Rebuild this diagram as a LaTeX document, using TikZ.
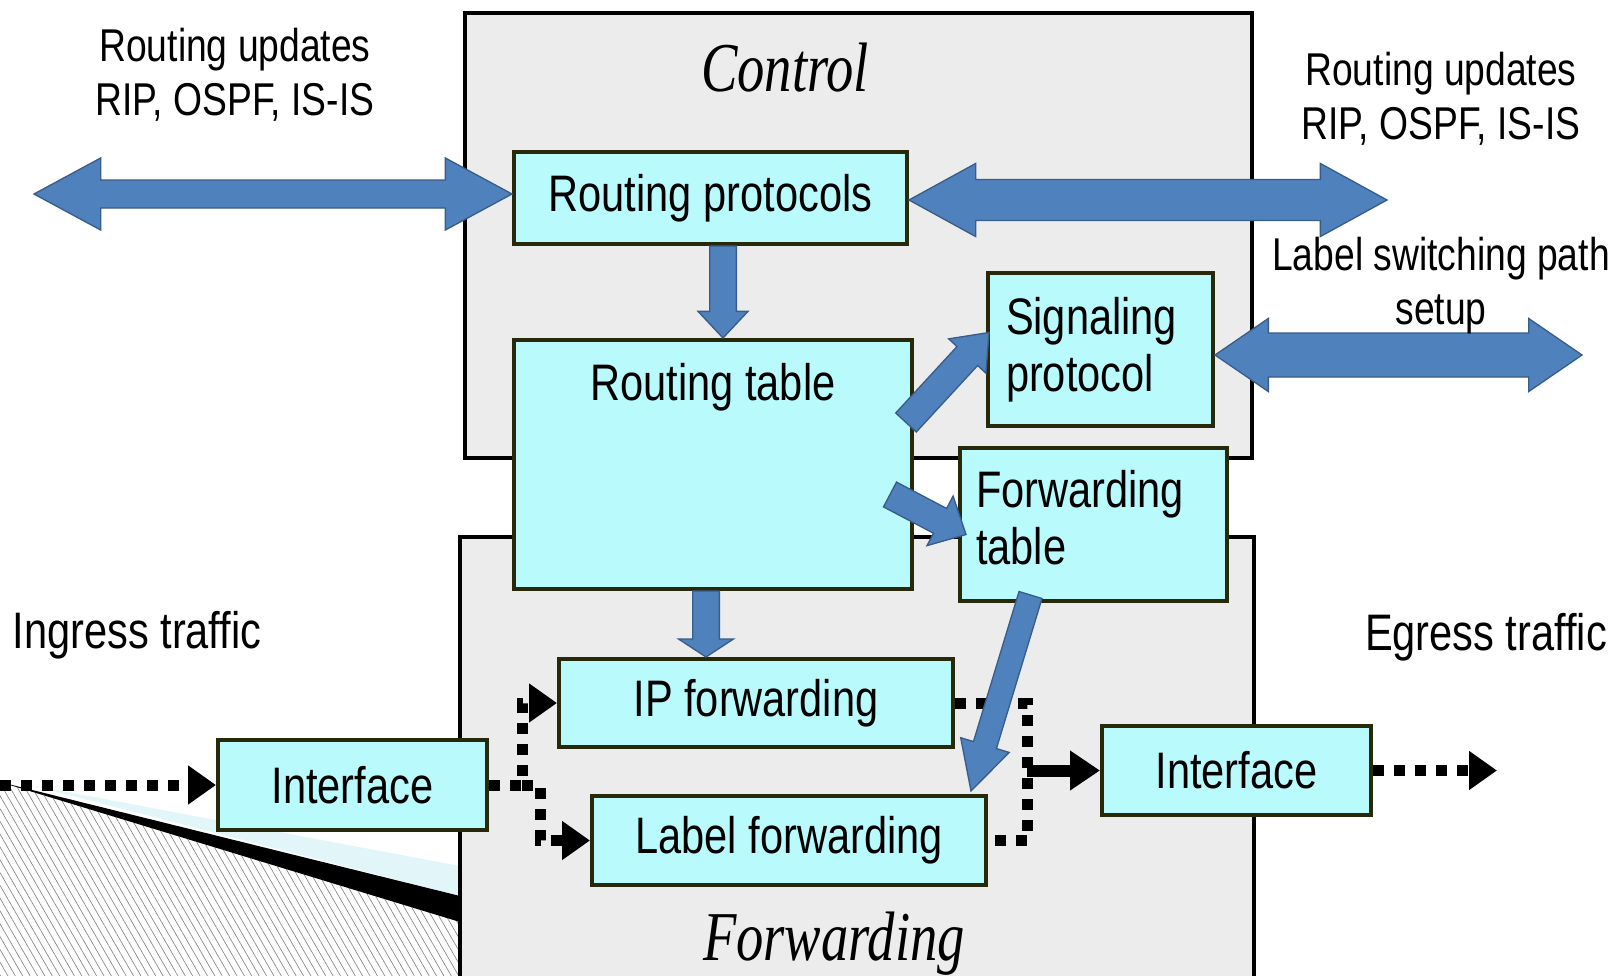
\documentclass[tikz,border=0pt]{standalone}
\usepackage{fontspec}
\setmainfont{Liberation Sans}[FakeStretch=0.81]
\newfontfamily\panelfont{Liberation Serif}[FakeStretch=0.78]
\usetikzlibrary{calc,arrows.meta,patterns.meta}

\definecolor{unitfill}{RGB}{185,250,252}
\definecolor{unitedge}{RGB}{40,40,10}
\definecolor{panelgray}{RGB}{236,236,236}
\definecolor{arrowblue}{RGB}{79,129,189}
\definecolor{arrowedge}{RGB}{56,93,138}
\definecolor{curlcyan}{RGB}{226,246,250}
\definecolor{hatchgray}{RGB}{135,135,135}

\newcommand{\unittext}{\fontsize{38.5pt}{42.75pt}\selectfont}
\newcommand{\notetext}{\fontsize{34.5pt}{40.5pt}\selectfont}
\newcommand{\paneltext}{\panelfont\itshape\fontsize{52.5pt}{60pt}\selectfont}

% block arrow: tail, tip, half shaft, half head, head length
\newcommand{\blockarrow}[5]{%
  \coordinate (ta) at (#1); \coordinate (tb) at (#2);
  \coordinate (hd) at ($(tb)!#5!(ta)$);
  \draw[fatblue] ($(ta)!#3!90:(tb)$) -- ($(hd)!#3!90:(tb)$) -- ($(hd)!#4!90:(tb)$) -- (tb)
    -- ($(hd)!#4!-90:(tb)$) -- ($(hd)!#3!-90:(tb)$) -- ($(ta)!#3!-90:(tb)$) -- cycle;
}
% block arrow with two heads
\newcommand{\blockdarrow}[5]{%
  \coordinate (ta) at (#1); \coordinate (tb) at (#2);
  \coordinate (ha) at ($(ta)!#5!(tb)$); \coordinate (hb) at ($(tb)!#5!(ta)$);
  \draw[fatblue] (ta) -- ($(ha)!#4!90:(tb)$) -- ($(ha)!#3!90:(tb)$) -- ($(hb)!#3!-90:(ta)$)
    -- ($(hb)!#4!-90:(ta)$) -- (tb) -- ($(hb)!#4!90:(ta)$) -- ($(hb)!#3!90:(ta)$)
    -- ($(ha)!#3!-90:(tb)$) -- ($(ha)!#4!-90:(tb)$) -- cycle;
}

\tikzset{every picture/.style={line width=0.75pt}}
\tikzset{
  panel/.style={draw=black, fill=panelgray, line width=3pt},
  unit/.style={draw=unitedge, fill=unitfill, line width=3pt, inner sep=0pt, font=\unittext},
  note/.style={inner sep=0pt, font=\notetext, align=center},
  fatblue/.style={draw=arrowedge, fill=arrowblue, line width=1pt, line join=miter},
  dotline/.style={draw=black, line width=8.25pt, dash pattern=on 8.25pt off 7.5pt},
  dotarrow/.style={dotline, -{Triangle[length=21pt,width=28pt]}},
  solidarrow/.style={draw=black, line width=9pt, -{Triangle[length=22.5pt,width=28.5pt]}}
}

\begin{document}
\begin{tikzpicture}[x=0.75pt,y=0.75pt,yscale=-1,xscale=1]
\useasboundingbox (0,0) rectangle (1614,975);
\clip (0,0) rectangle (1614,975);
\fill[white] (0,0) rectangle (1614,975);

%Shape: Page curl
\fill[pattern={Lines[angle=-60,distance=4.8pt,line width=0.5pt]}, pattern color=hatchgray] (0,782) -- (460,922) -- (460,990) -- (0,990) -- cycle;
\fill[curlcyan] (30,785) -- (460,866) -- (460,896) -- cycle;
\fill[black] (0,782) -- (460,896) -- (460,922) -- cycle;

%Shape: Rectangle
\draw[panel] (465,13) rectangle (1252,458);
%Shape: Rectangle
\draw[panel] (460,537) rectangle (1254,990);

% Text Node
\node[unit, minimum width=294.75pt, minimum height=69pt] (rp) at (710.5,198) {Routing protocols};
% Text Node
\node[unit, minimum width=298.5pt, text height=45pt, text depth=141.75pt, anchor=north] (rt) at (713,338) {Routing table};
% Text Node
\node[unit, minimum width=168.75pt, minimum height=114.75pt, text width=141.75pt, align=left] (sp) at (1100.5,349.5) {Signaling\\protocol};
% Text Node
\node[unit, minimum width=200.25pt, minimum height=114.75pt, text width=176.25pt, align=left] (ft) at (1093.5,524.5) {Forwarding\\table\rule[-10.5pt]{0pt}{10.5pt}};
% Text Node
\node[unit, minimum width=295.5pt, minimum height=66pt] (ipf) at (756,703) {IP forwarding};
% Text Node
\node[unit, minimum width=295.5pt, minimum height=66.75pt] (lf) at (789,840.5) {Label forwarding};
% Text Node
\node[unit, minimum width=201.75pt, minimum height=67.5pt] (ifl) at (352.5,785) {Interface};
% Text Node
\node[unit, minimum width=201.75pt, minimum height=66.75pt] (ifr) at (1236.5,770.5) {Interface};

\coordinate (ingress) at (0,785);
\coordinate (egress) at (1497,770.5);
\coordinate (splitl) at (522,785);
\coordinate (splitm) at (540,785);
\coordinate (joinr) at (1027,770.5);
\coordinate (rul) at (34,194);
\coordinate (rur) at (1387,200);
\coordinate (lspout) at (1582,355);

%Straight Lines
\draw[dotarrow] (ingress) -- (ifl.west);
\draw[dotarrow] (ifl.east) -- (splitl) |- (ipf.west);
\draw[dotarrow] (splitl) -- (splitm) |- (lf.west);
\draw[dotline] (ipf.east) -| (joinr) |- (lf.east);
\draw[solidarrow] (joinr) -- (ifr.west);
\draw[dotarrow] (ifr.east) -- (egress);

%Shape: Block arrows
\blockdarrow{rul}{rp.west |- rul}{10.5pt}{27pt}{50pt}
\blockdarrow{rp.east |- rur}{rur}{15.4pt}{27.4pt}{50pt}
\blockdarrow{sp.east |- lspout}{lspout}{16.5pt}{27.4pt}{40pt}
\blockarrow{[xshift=9.375pt]rp.south}{[xshift=7.5pt]rt.north}{10pt}{18.75pt}{20pt}
\blockarrow{[xshift=-5.25pt]rt.south}{[xshift=-37.5pt]ipf.north}{10pt}{20.6pt}{13.5pt}
\blockarrow{$(rt.east)+(-8,-42)$}{$(sp.west)+(3,-17)$}{10.5pt}{19pt}{24pt}
\blockarrow{$(rt.east)+(-24,30)$}{$(ft.west)+(8,10)$}{10.5pt}{21pt}{22pt}
\blockarrow{$(ft.south)+(-63,-8)$}{$(lf.north east)+(-17,-3)$}{9pt}{19pt}{36pt}

% Text Node
\node[font=\paneltext, inner sep=0pt, anchor=base] (ctl) at (785,91) {Control};
% Text Node
\node[font=\paneltext, inner sep=0pt, anchor=base] (fwd) at (834,960) {Forwarding};
% Text Node
\node[note, anchor=base] (updl) at (235,115) {Routing updates\\RIP, OSPF, IS-IS};
% Text Node
\node[note, anchor=base] (updr) at (1441,139) {Routing updates\\RIP, OSPF, IS-IS};
% Text Node
\node[note, anchor=base] (lsp) at (1441,324) {Label switching path\\setup};
% Text Node
\node[note, font=\unittext, anchor=base] (ing) at (137,648) {Ingress traffic};
% Text Node
\node[note, font=\unittext, anchor=base] (egr) at (1486,650) {Egress traffic};

\end{tikzpicture}
\end{document}
